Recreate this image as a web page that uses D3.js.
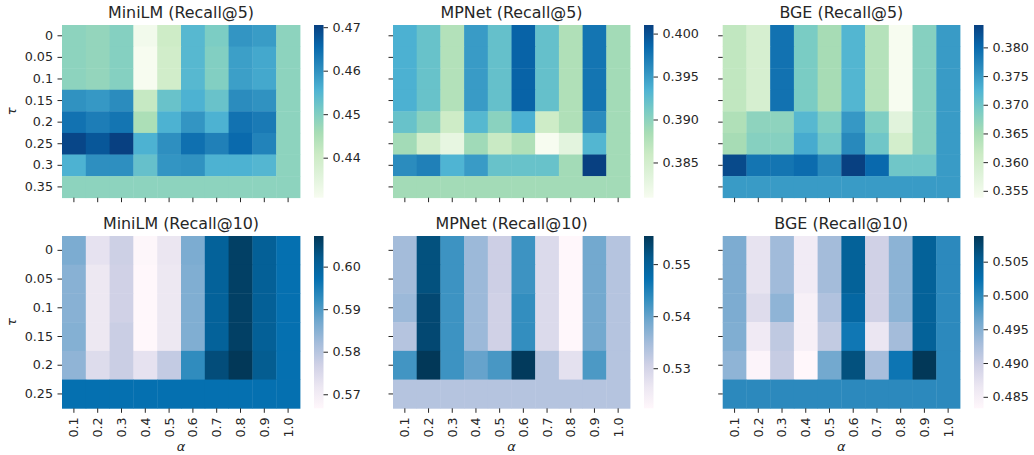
<!DOCTYPE html>
<html>
<head>
<meta charset="utf-8">
<script src="https://cdn.jsdelivr.net/npm/d3@7"></script>
<style>
  html, body { margin: 0; padding: 0; background: #fff; }
  svg { display: block; font-family: "DejaVu Sans", sans-serif; }
</style>
</head>
<body>
<svg id="chart" width="1034" height="455"></svg>
<script>
// ---------------- data ----------------
const alphas = ["0.1", "0.2", "0.3", "0.4", "0.5", "0.6", "0.7", "0.8", "0.9", "1.0"];
const tausR5 = ["0", "0.05", "0.1", "0.15", "0.2", "0.25", "0.3", "0.35"];
const tausR10 = ["0", "0.05", "0.1", "0.15", "0.2", "0.25"];

const miniLM_R5 = [
  [0.4487, 0.4479, 0.4495, 0.4318, 0.4403, 0.4546, 0.4505, 0.4594, 0.4586, 0.4487],
  [0.4487, 0.4479, 0.4495, 0.4308, 0.4395, 0.4546, 0.4499, 0.4582, 0.4570, 0.4487],
  [0.4487, 0.4479, 0.4495, 0.4308, 0.4395, 0.4546, 0.4499, 0.4582, 0.4570, 0.4487],
  [0.4598, 0.4590, 0.4606, 0.4415, 0.4526, 0.4558, 0.4526, 0.4606, 0.4598, 0.4487],
  [0.4641, 0.4626, 0.4638, 0.4451, 0.4558, 0.4594, 0.4558, 0.4641, 0.4630, 0.4487],
  [0.4697, 0.4677, 0.4705, 0.4558, 0.4602, 0.4645, 0.4622, 0.4653, 0.4618, 0.4487],
  [0.4558, 0.4602, 0.4602, 0.4530, 0.4594, 0.4598, 0.4558, 0.4558, 0.4550, 0.4487],
  [0.4487, 0.4487, 0.4487, 0.4487, 0.4487, 0.4487, 0.4487, 0.4487, 0.4487, 0.4487]
];
const mpnet_R5 = [
  [0.3936, 0.3920, 0.3877, 0.3950, 0.3922, 0.3988, 0.3922, 0.3879, 0.3976, 0.3887],
  [0.3936, 0.3920, 0.3877, 0.3950, 0.3922, 0.3988, 0.3922, 0.3879, 0.3976, 0.3887],
  [0.3936, 0.3920, 0.3877, 0.3950, 0.3922, 0.3988, 0.3922, 0.3879, 0.3976, 0.3887],
  [0.3936, 0.3920, 0.3877, 0.3950, 0.3922, 0.3988, 0.3922, 0.3879, 0.3976, 0.3887],
  [0.3920, 0.3901, 0.3857, 0.3930, 0.3901, 0.3936, 0.3857, 0.3879, 0.3960, 0.3887],
  [0.3887, 0.3851, 0.3827, 0.3889, 0.3861, 0.3879, 0.3809, 0.3831, 0.3932, 0.3887],
  [0.3960, 0.3968, 0.3934, 0.3950, 0.3920, 0.3920, 0.3920, 0.3887, 0.4010, 0.3887],
  [0.3887, 0.3887, 0.3887, 0.3887, 0.3887, 0.3887, 0.3887, 0.3887, 0.3887, 0.3887]
];
const bge_R5 = [
  [0.3625, 0.3595, 0.3791, 0.3689, 0.3652, 0.3722, 0.3637, 0.3538, 0.3679, 0.3749],
  [0.3625, 0.3595, 0.3791, 0.3689, 0.3652, 0.3722, 0.3637, 0.3538, 0.3679, 0.3749],
  [0.3625, 0.3595, 0.3791, 0.3689, 0.3652, 0.3722, 0.3637, 0.3538, 0.3679, 0.3749],
  [0.3625, 0.3595, 0.3791, 0.3689, 0.3652, 0.3722, 0.3637, 0.3538, 0.3679, 0.3749],
  [0.3643, 0.3673, 0.3673, 0.3719, 0.3685, 0.3752, 0.3685, 0.3574, 0.3679, 0.3749],
  [0.3652, 0.3679, 0.3679, 0.3734, 0.3698, 0.3767, 0.3698, 0.3601, 0.3679, 0.3749],
  [0.3830, 0.3788, 0.3788, 0.3797, 0.3767, 0.3839, 0.3800, 0.3698, 0.3698, 0.3749],
  [0.3749, 0.3749, 0.3749, 0.3749, 0.3749, 0.3749, 0.3749, 0.3749, 0.3749, 0.3749]
];
const miniLM_R10 = [
  [0.5861, 0.5728, 0.5772, 0.5671, 0.5720, 0.5861, 0.6003, 0.6060, 0.6007, 0.5971],
  [0.5849, 0.5716, 0.5768, 0.5667, 0.5716, 0.5857, 0.6003, 0.6060, 0.6007, 0.5971],
  [0.5849, 0.5716, 0.5768, 0.5667, 0.5716, 0.5857, 0.6003, 0.6060, 0.6007, 0.5971],
  [0.5853, 0.5716, 0.5776, 0.5667, 0.5716, 0.5857, 0.6003, 0.6060, 0.6007, 0.5971],
  [0.5841, 0.5744, 0.5776, 0.5728, 0.5784, 0.5926, 0.6040, 0.6072, 0.6015, 0.5971],
  [0.5971, 0.5971, 0.5971, 0.5971, 0.5971, 0.5971, 0.5971, 0.5971, 0.5971, 0.5971]
];
const mpnet_R10 = [
  [0.5349, 0.5524, 0.5425, 0.5355, 0.5309, 0.5425, 0.5289, 0.5223, 0.5389, 0.5332],
  [0.5349, 0.5524, 0.5425, 0.5355, 0.5309, 0.5425, 0.5289, 0.5223, 0.5389, 0.5332],
  [0.5355, 0.5534, 0.5425, 0.5355, 0.5306, 0.5432, 0.5289, 0.5223, 0.5389, 0.5332],
  [0.5332, 0.5534, 0.5425, 0.5355, 0.5306, 0.5432, 0.5289, 0.5223, 0.5389, 0.5332],
  [0.5422, 0.5554, 0.5425, 0.5398, 0.5418, 0.5551, 0.5332, 0.5276, 0.5415, 0.5332],
  [0.5332, 0.5332, 0.5332, 0.5332, 0.5332, 0.5332, 0.5332, 0.5332, 0.5332, 0.5332]
];
const bge_R10 = [
  [0.4955, 0.4871, 0.4932, 0.4856, 0.4930, 0.5045, 0.4897, 0.4945, 0.5045, 0.4999],
  [0.4955, 0.4871, 0.4932, 0.4856, 0.4930, 0.5045, 0.4897, 0.4945, 0.5045, 0.4999],
  [0.4955, 0.4881, 0.4943, 0.4846, 0.4920, 0.5037, 0.4897, 0.4945, 0.5045, 0.4999],
  [0.4953, 0.4859, 0.4910, 0.4846, 0.4907, 0.5017, 0.4866, 0.4930, 0.5045, 0.4999],
  [0.4943, 0.4838, 0.4904, 0.4833, 0.4961, 0.5065, 0.4927, 0.5019, 0.5088, 0.4999],
  [0.4999, 0.4999, 0.4999, 0.4999, 0.4999, 0.4999, 0.4999, 0.4999, 0.4999, 0.4999]
];

const cbTicksMiniR5 = [0.44, 0.45, 0.46, 0.47];
const cbTicksMpnetR5 = [0.385, 0.390, 0.395, 0.400];
const cbTicksBgeR5 = [0.355, 0.360, 0.365, 0.370, 0.375, 0.380];
const cbTicksMiniR10 = [0.57, 0.58, 0.59, 0.60];
const cbTicksMpnetR10 = [0.53, 0.54, 0.55];
const cbTicksBgeR10 = [0.485, 0.490, 0.495, 0.500, 0.505];

const titles = ["MiniLM (Recall@5)", "MPNet (Recall@5)", "BGE (Recall@5)",
                "MiniLM (Recall@10)", "MPNet (Recall@10)", "BGE (Recall@10)"];

// ---------------- palettes (matplotlib GnBu / PuBu) ----------------
const GnBu = ["#f7fcf0","#e0f3db","#ccebc5","#a8ddb5","#7bccc4","#4eb3d3","#2b8cbe","#0868ac","#084081"];
const PuBu = ["#fff7fb","#ece7f2","#d0d1e6","#a6bddb","#74a9cf","#3690c0","#0570b0","#045a8d","#023858"];

// ---------------- layout ----------------
const colX = [[62, 300], [393, 630], [722.7, 960]];
const rowY = [[25, 197.7], [236, 408.3]];
const textColor = "#262626";
const tickLen = 4.5, tickPad = 4.5, fontSize = 12.7;

const panels = [
  {data: miniLM_R5, taus: tausR5, pal: GnBu, ticks: cbTicksMiniR5, fmt: ".2f", c: 0, r: 0},
  {data: mpnet_R5, taus: tausR5, pal: GnBu, ticks: cbTicksMpnetR5, fmt: ".3f", c: 1, r: 0},
  {data: bge_R5, taus: tausR5, pal: GnBu, ticks: cbTicksBgeR5, fmt: ".3f", c: 2, r: 0},
  {data: miniLM_R10, taus: tausR10, pal: PuBu, ticks: cbTicksMiniR10, fmt: ".2f", c: 0, r: 1},
  {data: mpnet_R10, taus: tausR10, pal: PuBu, ticks: cbTicksMpnetR10, fmt: ".2f", c: 1, r: 1},
  {data: bge_R10, taus: tausR10, pal: PuBu, ticks: cbTicksBgeR10, fmt: ".3f", c: 2, r: 1}
];

const svg = d3.select("#chart");
const defs = svg.append("defs");

function styleAxis(g) {
  g.select(".domain").remove();
  g.attr("font-family", "DejaVu Sans, sans-serif").attr("font-size", fontSize);
  g.selectAll(".tick line").attr("stroke", textColor).attr("stroke-width", 1);
  g.selectAll(".tick text").attr("fill", textColor);
}

panels.forEach((p, i) => {
  const [x0, x1] = colX[p.c];
  const [y0, y1] = rowY[p.r];
  const flat = p.data.flat();
  const ext = d3.extent(flat);
  const interp = d3.piecewise(d3.interpolateRgb, p.pal);
  const color = d3.scaleSequential(interp).domain(ext);

  const x = d3.scaleBand().domain(alphas).range([x0, x1]).padding(0);
  const y = d3.scaleBand().domain(p.taus).range([y0, y1]).padding(0);

  const g = svg.append("g");
  // cells
  p.data.forEach((row, ri) => {
    g.selectAll(null).data(row).enter().append("rect")
      .attr("x", (d, ci) => x(alphas[ci]))
      .attr("y", y(p.taus[ri]))
      .attr("width", x.bandwidth() + 0.4)
      .attr("height", y.bandwidth() + 0.4)
      .attr("fill", d => color(d));
  });

  // y axis
  const ya = svg.append("g").attr("transform", `translate(${x0},0)`)
    .call(d3.axisLeft(y).tickSize(tickLen).tickPadding(tickPad).tickSizeOuter(0));
  styleAxis(ya);
  if (p.c !== 0) ya.selectAll(".tick text").remove();

  // x axis
  const xa = svg.append("g").attr("transform", `translate(0,${y1})`)
    .call(d3.axisBottom(x).tickSize(tickLen).tickPadding(tickPad).tickSizeOuter(0));
  styleAxis(xa);
  if (p.r === 0) {
    xa.selectAll(".tick text").remove();
  } else {
    xa.selectAll(".tick text")
      .attr("transform", "rotate(-90)")
      .attr("text-anchor", "end")
      .attr("x", -(tickLen + tickPad))
      .attr("y", 0)
      .attr("dy", "0.35em");
    svg.append("text")
      .attr("x", (x0 + x1) / 2).attr("y", 451)
      .attr("text-anchor", "middle")
      .attr("font-size", 13).attr("font-style", "italic")
      .attr("fill", textColor)
      .text("α");
  }
  if (p.c === 0) {
    svg.append("text")
      .attr("transform", `translate(16,${(y0 + y1) / 2}) rotate(-90)`)
      .attr("text-anchor", "middle")
      .attr("font-size", 13).attr("font-style", "italic")
      .attr("fill", textColor)
      .text("τ");
  }

  // title
  svg.append("text")
    .attr("x", (x0 + x1) / 2).attr("y", y0 - 7)
    .attr("text-anchor", "middle")
    .attr("font-size", 15.9)
    .attr("fill", textColor)
    .text(titles[i]);

  // colorbar
  const cbX = x1 + 14, cbW = 9.5;
  const gid = "grad" + i;
  const grad = defs.append("linearGradient").attr("id", gid)
    .attr("x1", 0).attr("y1", 1).attr("x2", 0).attr("y2", 0);
  p.pal.forEach((c, k) => {
    grad.append("stop").attr("offset", k / (p.pal.length - 1)).attr("stop-color", c);
  });
  svg.append("rect").attr("x", cbX).attr("y", y0).attr("width", cbW).attr("height", y1 - y0)
    .attr("fill", `url(#${gid})`);
  const cbScale = d3.scaleLinear().domain(ext).range([y1, y0]);
  const ca = svg.append("g").attr("transform", `translate(${cbX + cbW},0)`)
    .call(d3.axisRight(cbScale).tickValues(p.ticks).tickFormat(d3.format(p.fmt))
      .tickSize(tickLen).tickPadding(tickPad).tickSizeOuter(0));
  styleAxis(ca);
});
</script>
</body>
</html>
